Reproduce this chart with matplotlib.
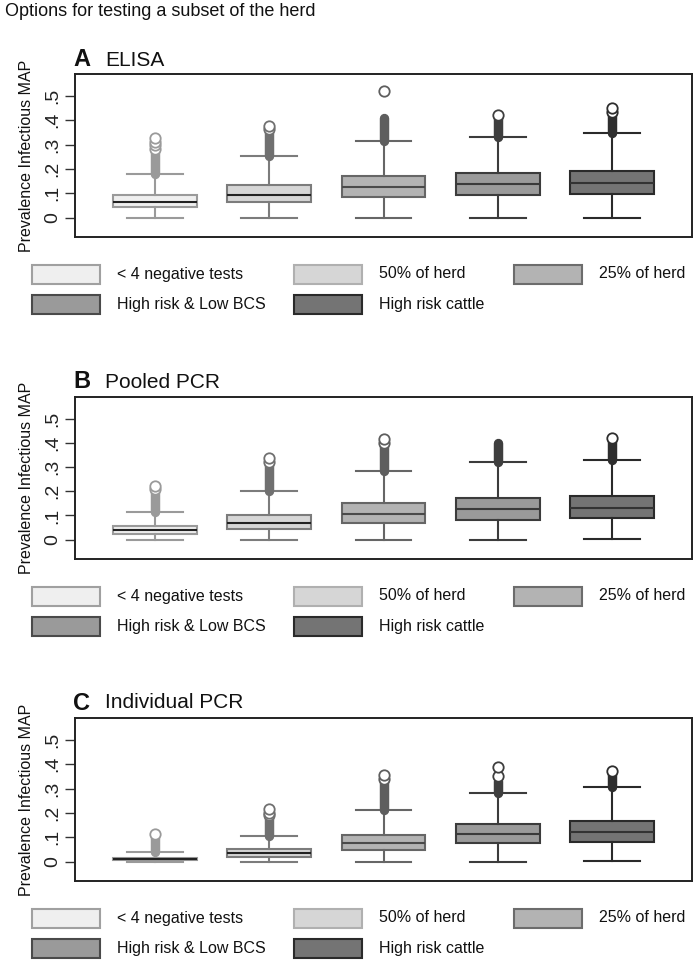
import matplotlib
matplotlib.use('Agg')
import matplotlib.pyplot as plt
from matplotlib.patches import Rectangle

plt.rcParams['font.family'] = ['Liberation Sans', 'DejaVu Sans']

# testing strategies (x order and legend order)
strategies = ['< 4 negative tests', '50% of herd', '25% of herd',
              'High risk & Low BCS', 'High risk cattle']
panel_letters = ['A', 'B', 'C']
panel_names = ['ELISA', 'Pooled PCR', 'Individual PCR']
ytick_vals = [0, 0.1, 0.2, 0.3, 0.4, 0.5]
ytick_labels = ['0', '.1', '.2', '.3', '.4', '.5']

# A - ELISA, box statistics
elisa_q1 = [0.043, 0.064, 0.083, 0.092, 0.095]
elisa_med = [0.064, 0.094, 0.125, 0.136, 0.143]
elisa_q3 = [0.092, 0.134, 0.171, 0.184, 0.192]
elisa_lo = [0.0, 0.0, 0.0, 0.0, 0.0]
elisa_hi = [0.179, 0.251, 0.314, 0.333, 0.349]
elisa_dense_top = [0.272, 0.355, 0.41, 0.412, 0.425]
elisa_outliers = [[0.283, 0.297, 0.312, 0.327], [0.363, 0.377], [0.52],
                  [0.422], [0.434, 0.45]]

# B - Pooled PCR
pooled_q1 = [0.023, 0.046, 0.070, 0.083, 0.090]
pooled_med = [0.038, 0.067, 0.108, 0.127, 0.132]
pooled_q3 = [0.057, 0.102, 0.151, 0.174, 0.182]
pooled_lo = [0.0, 0.0, 0.0, 0.0, 0.004]
pooled_hi = [0.115, 0.200, 0.283, 0.320, 0.328]
pooled_dense_top = [0.205, 0.31, 0.39, 0.40, 0.41]
pooled_outliers = [[0.211, 0.222], [0.321, 0.338], [0.398, 0.415], [],
                   [0.42]]

# C - Individual PCR
indiv_q1 = [0.007, 0.020, 0.049, 0.075, 0.080]
indiv_med = [0.011, 0.034, 0.078, 0.113, 0.121]
indiv_q3 = [0.014, 0.052, 0.111, 0.155, 0.166]
indiv_lo = [0.0, 0.0, 0.0, 0.0, 0.004]
indiv_hi = [0.038, 0.106, 0.212, 0.283, 0.306]
indiv_dense_top = [0.095, 0.185, 0.33, 0.33, 0.36]
indiv_outliers = [[0.112], [0.19, 0.2, 0.215], [0.34, 0.355], [0.35, 0.388],
                  [0.372]]

panels = [
    (elisa_q1, elisa_med, elisa_q3, elisa_lo, elisa_hi, elisa_dense_top, elisa_outliers),
    (pooled_q1, pooled_med, pooled_q3, pooled_lo, pooled_hi, pooled_dense_top, pooled_outliers),
    (indiv_q1, indiv_med, indiv_q3, indiv_lo, indiv_hi, indiv_dense_top, indiv_outliers),
]

# grey shades per strategy
fills = ['#efefef', '#d6d6d6', '#b3b3b3', '#9a9a9a', '#747474']
edges = ['#9a9a9a', '#7c7c7c', '#666666', '#3c3c3c', '#2a2a2a']
medians = ['#222222', '#222222', '#4a4a4a', '#3a3a3a', '#333333']
flier_cols = ['#9a9a9a', '#707070', '#5e5e5e', '#3e3e3e', '#2e2e2e']
legend_edges = ['#a0a0a0', '#b0b0b0', '#6c6c6c', '#4a4a4a', '#2a2a2a']

W, H = 695, 960
fig = plt.figure(figsize=(W / 100, H / 100), dpi=100)

# pixel layout of the three panels (top, bottom of frame)
frame_left, frame_right = 75, 692
frame_tops = [74, 397, 718]
frame_bots = [237, 559, 881]

positions = [1, 2, 3, 4, 5]

for p in range(3):
    q1, med, q3, lo, hi, dense_top, outl = panels[p]
    top, bot = frame_tops[p], frame_bots[p]
    ax = fig.add_axes([frame_left / W, 1 - bot / H,
                       (frame_right - frame_left) / W, (bot - top) / H])

    stats = []
    for i in range(5):
        stats.append({'med': med[i], 'q1': q1[i], 'q3': q3[i],
                      'whislo': lo[i], 'whishi': hi[i], 'fliers': outl[i]})

    bp = ax.bxp(stats, positions=positions, widths=0.735, capwidths=0.49,
                patch_artist=True, showfliers=True,
                flierprops=dict(marker='o', markerfacecolor='white',
                                markersize=7.5, markeredgewidth=1.3))
    for i in range(5):
        bp['boxes'][i].set_facecolor(fills[i])
        bp['boxes'][i].set_edgecolor(edges[i])
        bp['boxes'][i].set_linewidth(1.5)
        bp['medians'][i].set_color(medians[i])
        bp['medians'][i].set_linewidth(1.5)
        for ln in bp['whiskers'][2 * i:2 * i + 2] + bp['caps'][2 * i:2 * i + 2]:
            ln.set_color(edges[i])
            ln.set_linewidth(1.5)
        bp['fliers'][i].set_markeredgecolor(flier_cols[i])
        bp['fliers'][i].set_zorder(4)
        # the packed outliers merge into one solid column
        ax.plot([positions[i], positions[i]], [hi[i], dense_top[i]],
                color=flier_cols[i], lw=6.8, solid_capstyle='round', zorder=3)

    ax.set_xlim(0.3, 5.7)
    ax.set_ylim(-0.08, 0.59)
    ax.set_xticks([])
    ax.set_yticks(ytick_vals)
    ax.set_yticklabels(ytick_labels, rotation=90, va='center', fontsize=14,
                       color='#222222')
    ax.tick_params(axis='y', length=7, width=1, color='#333333', pad=3)
    for s in ax.spines.values():
        s.set_linewidth(1.4)
        s.set_color('#222222')
    ax.text(-0.078, 0.5, 'Prevalence Infectious MAP', transform=ax.transAxes,
            rotation=90, ha='center', va='center', fontsize=11.5, color='#111111')

# text and legend boxes in pixel coordinates
ov = fig.add_axes([0, 0, 1, 1])
ov.set_xlim(0, W)
ov.set_ylim(H, 0)
ov.axis('off')

ov.text(5, 12, 'Options for testing a subset of the herd', fontsize=13,
        ha='left', va='center', color='#111111')

title_y = [60, 382, 703]
leg_cols = [32, 294, 514]
leg_rows = [0, 0, 0, 1, 1]
leg_colidx = [0, 1, 2, 0, 1]
for p in range(3):
    ov.text(73, title_y[p], panel_letters[p], fontsize=17, fontweight='bold',
            ha='left', va='center', color='#111111')
    ov.text(105, title_y[p], panel_names[p], fontsize=15,
            ha='left', va='center', color='#111111')
    for i in range(5):
        yc = frame_bots[p] + 37 + 30 * leg_rows[i]
        x0 = leg_cols[leg_colidx[i]]
        ov.add_patch(Rectangle((x0, yc - 9.5), 68, 19, facecolor=fills[i],
                               edgecolor=legend_edges[i], lw=1.5))
        ov.text(x0 + 85, yc, strategies[i], fontsize=11.5, ha='left',
                va='center', color='#111111')

fig.savefig('out.png', dpi=100)
